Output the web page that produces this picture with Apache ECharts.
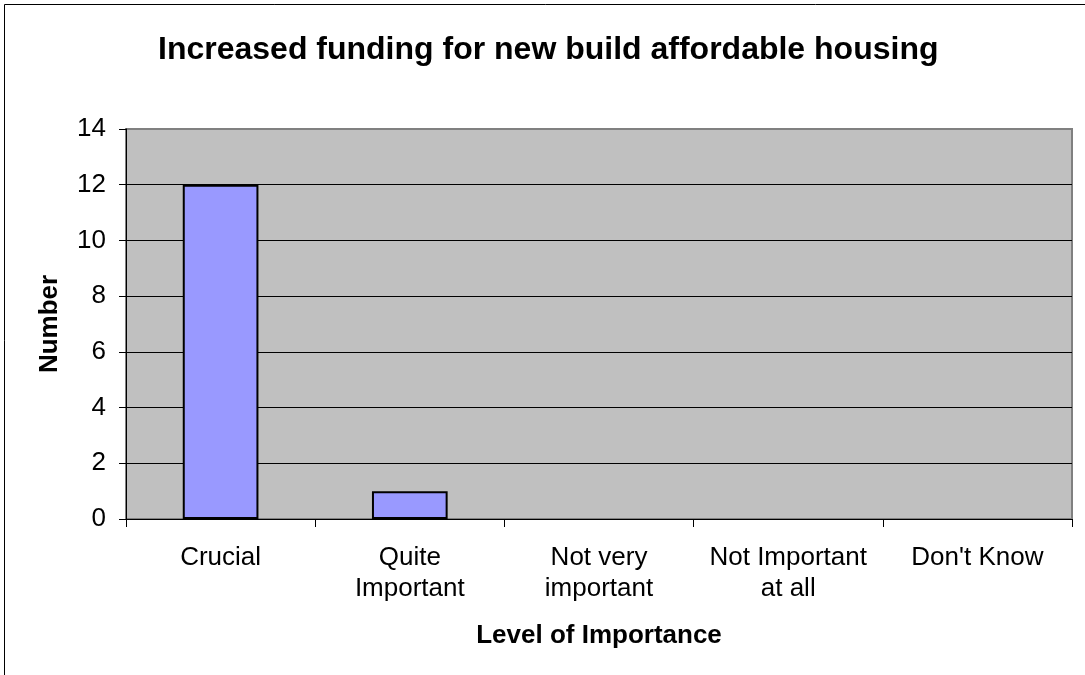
<!DOCTYPE html>
<html>
<head>
<meta charset="utf-8">
<style>html,body{margin:0;padding:0;background:#fff;}#c{width:1085px;height:675px;}</style>
<script src="https://cdn.jsdelivr.net/npm/echarts@6/dist/echarts.min.js"></script>
</head>
<body>
<div id="c"></div>
<script>
var categories = ['Crucial', 'Quite\nImportant', 'Not very\nimportant', 'Not Important\nat all', "Don't Know"];
var values = [12, 1, 0, 0, 0];
var titleText = 'Increased funding for new build affordable housing';
var xName = 'Level of Importance';
var yName = 'Number';

var FONT = '"Liberation Sans", Arial, sans-serif';
var barData = values.map(function (v) {
  return v === 0 ? { value: v, itemStyle: { borderWidth: 0, opacity: 0 } } : v;
});
var chart = echarts.init(document.getElementById('c'));
chart.setOption({
  animation: false,
  backgroundColor: '#ffffff',
  title: {
    text: titleText,
    left: 153,
    top: 29,
    textStyle: { fontFamily: FONT, fontSize: 32, fontWeight: 'bold', color: '#000' }
  },
  graphic: [{
    type: 'rect',
    shape: { x: 4.5, y: 4.5, width: 1200, height: 800 },
    style: { fill: 'none', stroke: '#000', lineWidth: 1 },
    silent: true,
    z: 100
  }],
  grid: {
    left: 126, top: 129, right: 13, bottom: 156,
    show: true,
    backgroundColor: '#C0C0C0',
    borderColor: '#808080',
    borderWidth: 2
  },
  xAxis: {
    type: 'category',
    data: categories,
    name: xName,
    nameLocation: 'middle',
    nameGap: 104,
    nameTextStyle: { fontFamily: FONT, fontSize: 26, fontWeight: 'bold', color: '#000' },
    axisLine: { lineStyle: { color: '#000', width: 1 } },
    axisTick: { show: true, length: 8, lineStyle: { color: '#000' } },
    axisLabel: { fontFamily: FONT, fontSize: 26, color: '#000', lineHeight: 31, margin: 23, interval: 0 },
    splitLine: { show: false }
  },
  yAxis: {
    type: 'value',
    min: 0, max: 14, interval: 2,
    name: yName,
    nameLocation: 'middle',
    nameGap: 63,
    nameRotate: 90,
    nameTextStyle: { fontFamily: FONT, fontSize: 26, fontWeight: 'bold', color: '#000' },
    axisLine: { show: true, lineStyle: { color: '#000', width: 1 } },
    axisTick: { show: true, length: 7, lineStyle: { color: '#000' } },
    axisLabel: { fontFamily: FONT, fontSize: 26, color: '#000', margin: 20 },
    splitLine: { show: true, lineStyle: { color: ['#000','#000','#000','#000','#000','#000','#000','#808080'], width: 1 } }
  },
  series: [{
    type: 'bar',
    data: barData,
    barWidth: '40%',
    itemStyle: { color: '#9999FF', borderColor: '#000', borderWidth: 2 }
  }]
});
</script>
</body>
</html>
